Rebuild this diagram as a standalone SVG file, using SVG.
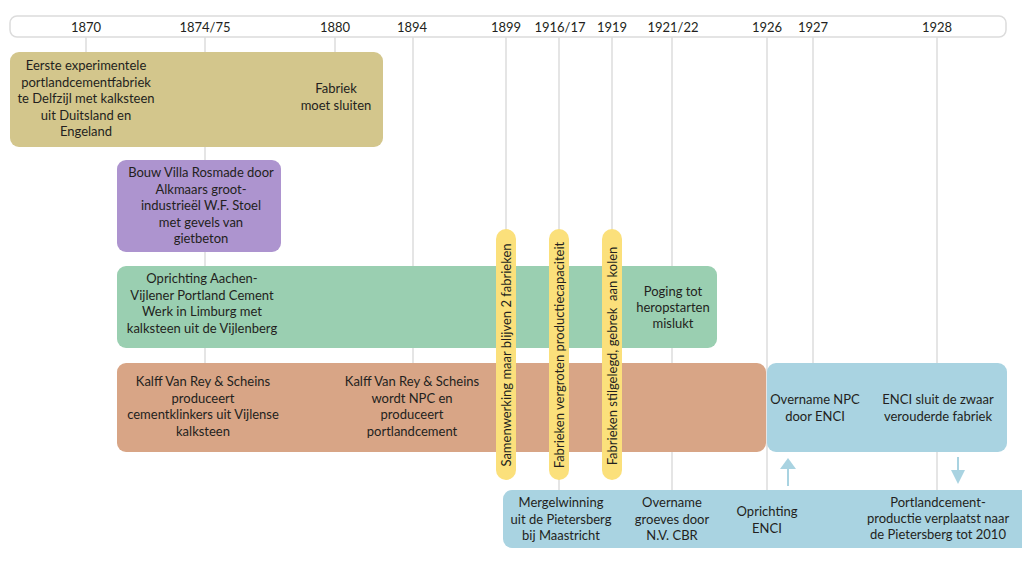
<svg xmlns="http://www.w3.org/2000/svg" width="1024" height="576" viewBox="0 0 1024 576">
<style>
text{font-family:Lato,"Liberation Sans",sans-serif;font-size:13px;fill:#231f20;text-anchor:middle}
.grid{stroke:#dcdcdc;stroke-width:1.5;fill:none}
.pill{fill:#fbe07b}
.blue{fill:#a9d3e1}
.shaft{stroke:#a9d3e1;stroke-width:2}
</style>
<rect width="1024" height="576" fill="#fff"/>
<g id="axis">
<rect x="10" y="16" width="996" height="21" rx="7" fill="#fff" stroke="#dcdcdc" stroke-width="1.5"/>
<text x="86" y="32">1870</text>
<text x="205" y="32">1874/75</text>
<text x="335" y="32">1880</text>
<text x="412" y="32">1894</text>
<text x="506" y="32">1899</text>
<text x="560" y="32">1916/17</text>
<text x="612" y="32">1919</text>
<text x="673" y="32">1921/22</text>
<text x="767" y="32">1926</text>
<text x="813" y="32">1927</text>
<text x="937" y="32">1928</text>
</g>
<g id="connectors">
<line class="grid" x1="86" y1="37" x2="86" y2="53"/>
<line class="grid" x1="205" y1="37" x2="205" y2="365"/>
<line class="grid" x1="335" y1="37" x2="335" y2="53"/>
<line class="grid" x1="413" y1="37" x2="413" y2="365"/>
<line class="grid" x1="506" y1="37" x2="506" y2="232"/>
<line class="grid" x1="559" y1="37" x2="559" y2="491"/>
<line class="grid" x1="612" y1="37" x2="612" y2="232"/>
<line class="grid" x1="672" y1="37" x2="672" y2="491"/>
<line class="grid" x1="767" y1="37" x2="767" y2="491"/>
<line class="grid" x1="813" y1="37" x2="813" y2="365"/>
<line class="grid" x1="937" y1="37" x2="937" y2="491"/>
<g id="arrow-up">
<line class="shaft" x1="788" y1="486" x2="788" y2="467"/>
<path d="M780,469L788,458L796,469z" class="blue"/>
</g>
<g id="arrow-down">
<line class="shaft" x1="958" y1="457" x2="958" y2="472"/>
<path d="M951,470L958,484L965,470z" class="blue"/>
</g>
</g>
<g id="node-delfzijl">
<rect x="10" y="52" width="373" height="95" rx="9" fill="#d3c68c"/>
<text x="86" y="70">Eerste experimentele</text>
<text x="86" y="86.5">portlandcementfabriek</text>
<text x="86" y="103">te Delfzijl met kalksteen</text>
<text x="86" y="119.5">uit Duitsland en</text>
<text x="86" y="136">Engeland</text>
<text x="336" y="93">Fabriek</text>
<text x="336" y="110">moet sluiten</text>
</g>
<g id="node-villa">
<rect x="117" y="160" width="164" height="92" rx="9" fill="#ad94cf"/>
<text x="201" y="177">Bouw Villa Rosmade door</text>
<text x="201" y="193.5">Alkmaars groot-</text>
<text x="201" y="210">industrieël W.F. Stoel</text>
<text x="201" y="226.5">met gevels van</text>
<text x="201" y="243">gietbeton</text>
</g>
<g id="node-aachen">
<rect x="117" y="266" width="600" height="82" rx="9" fill="#9acfb1"/>
<text x="202" y="283">Oprichting Aachen-</text>
<text x="202" y="299.5">Vijlener Portland Cement</text>
<text x="202" y="316">Werk in Limburg met</text>
<text x="202" y="332.5">kalksteen uit de Vijlenberg</text>
<text x="673" y="296">Poging tot</text>
<text x="673" y="312">heropstarten</text>
<text x="673" y="328">mislukt</text>
</g>
<g id="node-kalff">
<rect x="117" y="363" width="649" height="89" rx="9" fill="#d8a586"/>
<text x="203" y="386">Kalff Van Rey &amp; Scheins</text>
<text x="203" y="402.5">produceert</text>
<text x="203" y="419">cementklinkers uit Vijlense</text>
<text x="203" y="435.5">kalksteen</text>
<text x="412" y="386">Kalff Van Rey &amp; Scheins</text>
<text x="412" y="402.5">wordt NPC en</text>
<text x="412" y="419">produceert</text>
<text x="412" y="435.5">portlandcement</text>
</g>
<g id="node-enci">
<rect x="767" y="363" width="240" height="89" rx="9" class="blue"/>
<text x="815" y="404">Overname NPC</text>
<text x="815" y="421">door ENCI</text>
<text x="938" y="404">ENCI sluit de zwaar</text>
<text x="938" y="421">verouderde fabriek</text>
</g>
<g id="node-pietersberg">
<path d="M512,490H1022V548H512A9,9 0 0 1 503,539V499A9,9 0 0 1 512,490z" class="blue"/>
<text x="561" y="507">Mergelwinning</text>
<text x="561" y="523.5">uit de Pietersberg</text>
<text x="561" y="540">bij Maastricht</text>
<text x="672" y="507">Overname</text>
<text x="672" y="523.5">groeves door</text>
<text x="672" y="540">N.V. CBR</text>
<text x="767" y="516">Oprichting</text>
<text x="767" y="533">ENCI</text>
<text x="938" y="507">Portlandcement-</text>
<text x="938" y="523">productie verplaatst naar</text>
<text x="938" y="539">de Pietersberg tot 2010</text>
</g>
<g id="node-1899">
<rect x="496" y="229" width="20" height="251" rx="10" class="pill"/>
<text transform="translate(510.5,355) rotate(-90)">Samenwerking maar blijven 2 fabrieken</text>
</g>
<g id="node-1916">
<rect x="549" y="229" width="20" height="251" rx="10" class="pill"/>
<text transform="translate(563.5,355) rotate(-90)">Fabrieken vergroten productiecapaciteit</text>
</g>
<g id="node-1919">
<rect x="602" y="229" width="20" height="251" rx="10" class="pill"/>
<text transform="translate(616.5,356) rotate(-90)">Fabrieken stilgelegd, gebrek&#160; aan kolen</text>
</g>
</svg>
